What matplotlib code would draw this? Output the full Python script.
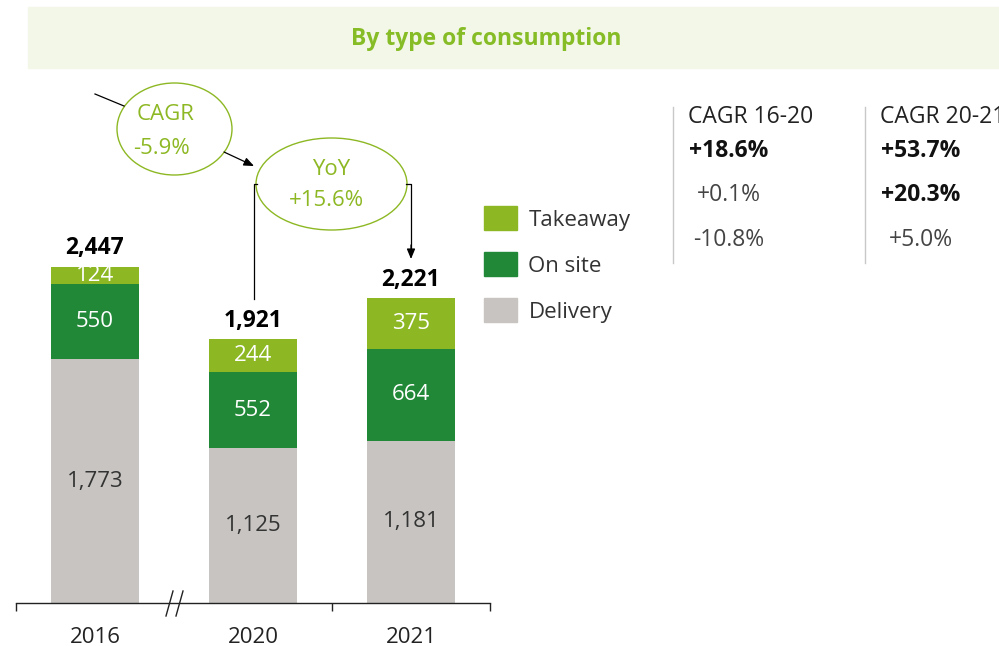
import numpy as np
import matplotlib.pyplot as plt
from matplotlib.patches import Rectangle, Ellipse, Patch, FancyArrowPatch

plt.rcParams['font.family'] = ['Open Sans', 'DejaVu Sans']

# data
years = ["2016", "2020", "2021"]
delivery = [1773, 1125, 1181]
on_site = [550, 552, 664]
takeaway = [124, 244, 375]
totals = [2447, 1921, 2221]

series_names = ["Takeaway", "On site", "Delivery"]
cagr_16_20 = ["+18.6%", "+0.1%", "-10.8%"]
cagr_20_21 = ["+53.7%", "+20.3%", "+5.0%"]

GREEN_LIGHT = "#8db824"
GREEN_DARK = "#218838"
GREY = "#c7c4c1"
TITLE_GREEN = "#86bc25"
FS = 16

W, H = 999, 646
fig = plt.figure(figsize=(W / 100, H / 100), dpi=100)

def fx(px):
    return px / W

def fy(py):
    return 1 - py / H

# banner
fig.patches.append(Rectangle((fx(28), fy(68)), fx(999 - 28), (68 - 7) / H,
                             transform=fig.transFigure, color="#f3f7e8", zorder=0))
fig.text(fx(486), fy(39), "By type of consumption", color=TITLE_GREEN,
         fontsize=16.5, fontweight="bold", ha="center", va="center")

# bars
ymax = 4000
ax = fig.add_axes([fx(16), 43 / H, 474 / W, ymax * 0.1375 / H])
x = np.arange(len(years))
bw = 0.557
ax.bar(x, delivery, bw, color=GREY)
ax.bar(x, on_site, bw, bottom=delivery, color=GREEN_DARK)
bottom2 = np.array(delivery) + np.array(on_site)
ax.bar(x, takeaway, bw, bottom=bottom2, color=GREEN_LIGHT)
ax.set_xlim(-0.5, 2.5)
ax.set_ylim(0, ymax)

for i in range(len(years)):
    ax.text(x[i], delivery[i] / 2, f"{delivery[i]:,}", ha="center", va="center",
            fontsize=FS, color="#333333")
    ax.text(x[i], delivery[i] + on_site[i] / 2, f"{on_site[i]:,}", ha="center",
            va="center", fontsize=FS, color="white")
    ax.text(x[i], bottom2[i] + takeaway[i] / 2, f"{takeaway[i]:,}", ha="center",
            va="center", fontsize=FS, color="white")
    ax.annotate(f"{totals[i]:,}", (x[i], totals[i]), xytext=(0, 13),
                textcoords="offset points", ha="center", va="center",
                fontsize=16.5, fontweight="bold", color="black")

for s in ["top", "left", "right"]:
    ax.spines[s].set_visible(False)
ax.spines["bottom"].set_linewidth(1)
ax.spines["bottom"].set_color("#222222")
ax.set_yticks([])
ax.set_xticks([-0.5, 1.5, 2.5])
ax.set_xticklabels([])
ax.tick_params(axis="x", direction="out", length=6, width=1, color="#222222")
for i, yr in enumerate(years):
    ax.annotate(yr, (x[i], 0), xytext=(0, -24.5), textcoords="offset points",
                ha="center", va="center", fontsize=16, color="#222222")

# axis break marks
for x0 in (166, 176):
    fig.add_artist(plt.Line2D([fx(x0), fx(x0 + 7)], [fy(616), fy(591)],
                              color="#222222", lw=1))

# legend
handles = [Patch(color=c) for c in (GREEN_LIGHT, GREEN_DARK, GREY)]
fig.legend(handles, series_names, loc="upper left",
           bbox_to_anchor=(fx(464), fy(186)), frameon=False, fontsize=FS,
           handlelength=1.5, handleheight=1.3, labelspacing=0.97,
           handletextpad=0.5, labelcolor="#333333")

# bubbles
ell_color = GREEN_LIGHT
fig.add_artist(Ellipse((fx(174.5), fy(129)), fx(115), 92 / H,
                       transform=fig.transFigure, fill=False, ec=ell_color, lw=1))
fig.text(fx(137), fy(115), "CAGR", color=ell_color, fontsize=FS, ha="left", va="center")
fig.text(fx(133), fy(148), "-5.9%", color=ell_color, fontsize=FS, ha="left", va="center")
fig.add_artist(Ellipse((fx(331.5), fy(184)), fx(151), 92 / H,
                       transform=fig.transFigure, fill=False, ec=ell_color, lw=1))
fig.text(fx(331), fy(170), "YoY", color=ell_color, fontsize=FS, ha="center", va="center")
fig.text(fx(326), fy(201), "+15.6%", color=ell_color, fontsize=FS, ha="center", va="center")

# connectors
lk = dict(color="black", lw=0.9)
fig.add_artist(plt.Line2D([fx(95), fx(124)], [fy(94), fy(106)], **lk))
fig.add_artist(plt.Line2D([fx(254), fx(254), fx(257)], [fy(299), fy(184), fy(184)], **lk))
fig.add_artist(plt.Line2D([fx(406), fx(411), fx(411)], [fy(184), fy(184), fy(250)], **lk))
arr = dict(arrowstyle="-|>,head_length=0.6,head_width=0.25", color="black",
           lw=0.9, mutation_scale=10, shrinkA=0, shrinkB=0)
fig.add_artist(FancyArrowPatch((fx(224), fy(152)), (fx(254), fy(166)),
                               transform=fig.transFigure, **arr))
fig.add_artist(FancyArrowPatch((fx(411), fy(245)), (fx(411), fy(259)),
                               transform=fig.transFigure, **arr))

# CAGR table
TFS = 16.5
for xl in (673, 865):
    fig.add_artist(plt.Line2D([fx(xl), fx(xl)], [fy(107), fy(263)],
                              color="#c8c8c8", lw=1))
fig.text(fx(688), fy(117), "CAGR 16-20", fontsize=TFS, color="#222222", va="center")
fig.text(fx(880), fy(117), "CAGR 20-21", fontsize=TFS, color="#222222", va="center")
rows_y = [151, 195, 240]
offs_a = [689, 697, 693]
for j, (val, yy, xx) in enumerate(zip(cagr_16_20, rows_y, offs_a)):
    bold = j == 0
    fig.text(fx(xx), fy(yy), val, fontsize=TFS, va="center",
             fontweight="bold" if bold else "normal",
             color="#111111" if bold else "#444444")
offs_b = [881, 881, 889]
for j, (val, yy, xx) in enumerate(zip(cagr_20_21, rows_y, offs_b)):
    bold = j < 2
    fig.text(fx(xx), fy(yy), val, fontsize=TFS, va="center",
             fontweight="bold" if bold else "normal",
             color="#111111" if bold else "#444444")

fig.savefig("out.png", dpi=100)
